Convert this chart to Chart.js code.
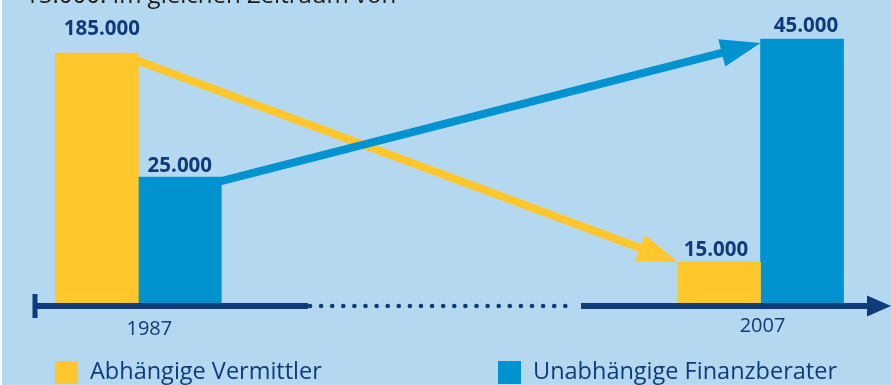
<!DOCTYPE html>
<html lang="de">
<head>
<meta charset="utf-8">
<script src="https://cdn.jsdelivr.net/npm/chart.js@4"></script>
<style>
html, body { margin: 0; padding: 0; background: #fff; }
#box { position: relative; width: 891px; height: 385px; }
</style>
</head>
<body>
<div id="box"><canvas id="grafik"></canvas></div>
<script>
// DATEN
var jahre = [1987, 2007];
var serien = ['Abhängige Vermittler', 'Unabhängige Finanzberater'];
var vermittler = [185000, 15000];
var finanzberater = [25000, 45000];
// Balkenhöhen so wie im Original gezeichnet (die Grafik ist nicht maßstäblich)
var hoeheVermittler = [250, 41];
var hoeheFinanzberater = [126, 264];
var kopfzeile = '15.000. Im gleichen Zeitraum von';

var GELB = '#ffc72c', BLAU = '#0093d0', NAVY = '#0f3b7a', HINTERGRUND = '#b4d8ef';
var SCHRIFT = '"Open Sans", "Noto Sans", sans-serif';

function zahl(n) {
    return n.toLocaleString('de-DE');
}

function pfeil(ctx, x1, y1, x2, y2, farbe) {
    var dx = x2 - x1, dy = y2 - y1;
    var len = Math.sqrt(dx * dx + dy * dy);
    var ux = dx / len, uy = dy / len;
    var kopf = 40, breite = 14;
    var bx = x2 - ux * kopf, by = y2 - uy * kopf;
    ctx.save();
    ctx.strokeStyle = farbe;
    ctx.fillStyle = farbe;
    ctx.lineWidth = 8;
    ctx.beginPath();
    ctx.moveTo(x1, y1);
    ctx.lineTo(bx + ux * 2, by + uy * 2);
    ctx.stroke();
    ctx.beginPath();
    ctx.moveTo(x2, y2);
    ctx.lineTo(bx - uy * breite, by + ux * breite);
    ctx.lineTo(bx + uy * breite, by - ux * breite);
    ctx.closePath();
    ctx.fill();
    ctx.restore();
}

var dekoration = {
    id: 'dekoration',
    beforeDraw: function(chart) {
        var ctx = chart.ctx;
        ctx.save();
        ctx.fillStyle = HINTERGRUND;
        ctx.fillRect(2, 0, chart.width - 2, chart.height);
        ctx.fillStyle = '#1a1a1a';
        ctx.font = '24px ' + SCHRIFT;
        ctx.textBaseline = 'alphabetic';
        ctx.fillText(kopfzeile, 25, 3);
        ctx.restore();
    },
    beforeDatasetsDraw: function(chart) {
        var ctx = chart.ctx;
        var g = chart.getDatasetMeta(0).data;
        var b = chart.getDatasetMeta(1).data;
        // Pfeile von den Balken 1987 zu den Balken 2007
        pfeil(ctx, g[0].x + g[0].width / 2 - 10, g[0].y + 8 - 10 * 0.373,
            g[1].x - g[1].width / 2, g[1].y, GELB);
        pfeil(ctx, b[0].x + b[0].width / 2 - 10, b[0].y + 4 + 10 * 0.256,
            b[1].x - b[1].width / 2, b[1].y + 4, BLAU);
    },
    afterDatasetsDraw: function(chart) {
        var ctx = chart.ctx;
        var x = chart.scales.x;
        var basis = chart.scales.y.getPixelForValue(0);
        var achseY = basis + 3;
        ctx.save();

        // Werte über den Balken
        ctx.font = 'bold 20.5px ' + SCHRIFT;
        ctx.fillStyle = NAVY;
        ctx.textAlign = 'center';
        ctx.textBaseline = 'alphabetic';
        var werte = [vermittler, finanzberater];
        var abstand = [[18, 6], [5, 7]];
        var versatz = [[5, -3], [0, 4]];
        for (var d = 0; d < 2; d++) {
            var bars = chart.getDatasetMeta(d).data;
            bars.forEach(function(bar, i) {
                ctx.fillText(zahl(werte[d][i]), bar.x + versatz[d][i], bar.y - abstand[d][i]);
            });
        }

        // Zeitachse
        ctx.strokeStyle = NAVY;
        ctx.fillStyle = NAVY;
        ctx.lineWidth = 6;
        ctx.lineCap = 'butt';
        ctx.beginPath();
        ctx.moveTo(33, achseY);
        ctx.lineTo(308, achseY);
        ctx.moveTo(581, achseY);
        ctx.lineTo(872, achseY);
        ctx.stroke();
        ctx.lineWidth = 5;
        ctx.beginPath();
        ctx.moveTo(35, achseY - 12);
        ctx.lineTo(35, achseY + 12);
        ctx.stroke();
        for (var p = 310; p <= 566; p += 11.1) {
            ctx.beginPath();
            ctx.arc(p, achseY, 2.3, 0, Math.PI * 2);
            ctx.fill();
        }
        ctx.beginPath();
        ctx.moveTo(891, achseY);
        ctx.lineTo(867, achseY - 10.5);
        ctx.lineTo(867, achseY + 10.5);
        ctx.closePath();
        ctx.fill();

        // Jahreszahlen
        ctx.font = '20px ' + SCHRIFT;
        var jahrVersatz = [11, 2];
        var jahrY = [335, 332];
        jahre.forEach(function(j, i) {
            ctx.fillText(String(j), x.getPixelForValue(j) + jahrVersatz[i], jahrY[i]);
        });

        // Legende
        ctx.textAlign = 'left';
        ctx.font = '23.5px ' + SCHRIFT;
        var legX = [55, 498];
        var farben = [GELB, BLAU];
        serien.forEach(function(name, i) {
            ctx.fillStyle = farben[i];
            ctx.fillRect(legX[i], 361, 23, 23);
            ctx.fillStyle = NAVY;
            ctx.fillText(name, legX[i] + 35, 379);
        });
        ctx.restore();
    }
};

function punkte(hoehen) {
    return jahre.map(function(j, i) { return { x: j, y: hoehen[i] }; });
}

var grafik = new Chart(document.getElementById('grafik').getContext('2d'), {
    type: 'bar',
    data: {
        datasets: [{
            label: serien[0],
            data: punkte(hoeheVermittler),
            backgroundColor: GELB,
            borderWidth: 0,
            barThickness: 83
        }, {
            label: serien[1],
            data: punkte(hoeheFinanzberater),
            backgroundColor: BLAU,
            borderWidth: 0,
            barThickness: 83
        }]
    },
    options: {
        responsive: true,
        maintainAspectRatio: false,
        animation: false,
        layout: { padding: { left: 0, right: 0, top: 0, bottom: 82 } },
        plugins: {
            legend: { display: false },
            tooltip: { enabled: false }
        },
        scales: {
            x: {
                type: 'linear',
                display: false,
                offset: false,
                min: 1982.554,
                max: 2011.194
            },
            y: {
                display: false,
                min: 0,
                max: 303
            }
        }
    },
    plugins: [dekoration]
});
</script>
</body>
</html>
